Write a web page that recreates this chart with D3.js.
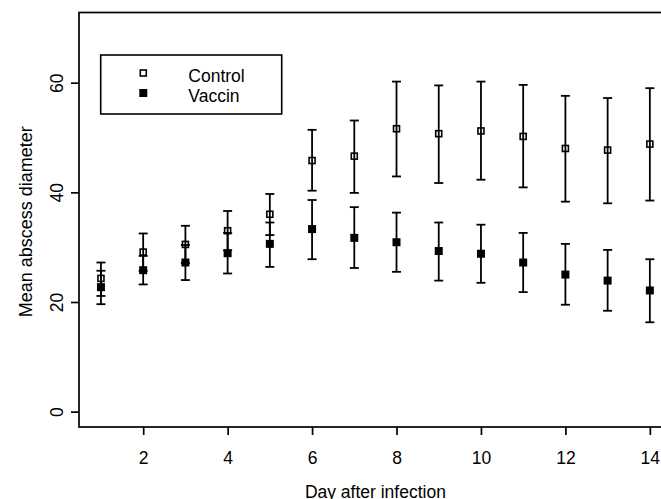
<!DOCTYPE html>
<html>
<head>
<meta charset="utf-8">
<script src="https://cdn.jsdelivr.net/npm/d3@7/dist/d3.min.js"></script>
<style>
  html, body { margin: 0; padding: 0; background: #fff; }
  svg { display: block; font-family: "Liberation Sans", Arial, Helvetica, sans-serif; }
</style>
</head>
<body>
<div id="chart"></div>
<script>
// Mean abscess diameter by day, with error bars
const days = [1, 2, 3, 4, 5, 6, 7, 8, 9, 10, 11, 12, 13, 14];

const controlMean  = [24.3, 29.1, 30.5, 33.0, 36.0, 45.8, 46.6, 51.6, 50.7, 51.2, 50.2, 48.0, 47.7, 48.8];
const controlUpper = [27.2, 32.5, 33.9, 36.6, 39.7, 51.4, 53.1, 60.2, 59.5, 60.2, 59.6, 57.6, 57.2, 59.0];
const controlLower = [21.1, 25.7, 27.1, 29.4, 32.2, 40.3, 39.9, 42.9, 41.7, 42.3, 40.9, 38.3, 38.0, 38.5];

const vaccinMean  = [22.7, 25.8, 27.2, 28.9, 30.6, 33.3, 31.7, 30.9, 29.3, 28.8, 27.2, 25.0, 23.9, 22.1];
const vaccinUpper = [25.7, 28.4, 30.4, 32.6, 34.5, 38.6, 37.3, 36.3, 34.5, 34.1, 32.6, 30.6, 29.5, 27.8];
const vaccinLower = [19.6, 23.2, 24.0, 25.2, 26.4, 27.8, 26.2, 25.5, 23.9, 23.5, 21.8, 19.5, 18.4, 16.3];

const xTicks = [2, 4, 6, 8, 10, 12, 14];
const yTicks = [0, 20, 40, 60];
const legendLabels = ["Control", "Vaccin"];

const width = 661;
const height = 499;
const fontSize = 17.5;

// R-style 4% padding on xlim = range(days), ylim = c(0, 70)
const x = d3.scaleLinear().domain([0.48, 14.52]).range([79, 671.8]);
const y = d3.scaleLinear().domain([-2.8, 72.8]).range([427, 12.5]);

const svg = d3.select("#chart").append("svg")
    .attr("width", width)
    .attr("height", height);

// plot box
svg.append("rect")
    .attr("x", x.range()[0])
    .attr("y", y.range()[1])
    .attr("width", x.range()[1] - x.range()[0])
    .attr("height", y.range()[0] - y.range()[1])
    .attr("fill", "none")
    .attr("stroke", "#000")
    .attr("stroke-width", 1.7);

// x axis
const xAxis = d3.axisBottom(x).tickValues(xTicks).tickSize(8).tickSizeOuter(0);
const gx = svg.append("g")
    .attr("transform", `translate(0,${y.range()[0]})`)
    .call(xAxis);
gx.select(".domain").remove();
gx.selectAll(".tick line").attr("stroke", "#000").attr("stroke-width", 1.7);
gx.selectAll(".tick text")
    .attr("font-size", fontSize)
    .attr("font-family", "Liberation Sans, Arial, sans-serif")
    .attr("fill", "#000")
    .attr("dy", null)
    .attr("y", 463.5 - y.range()[0]);

// y axis
const yAxis = d3.axisLeft(y).tickValues(yTicks).tickSize(8).tickSizeOuter(0);
const gy = svg.append("g")
    .attr("transform", `translate(${x.range()[0]},0)`)
    .call(yAxis);
gy.select(".domain").remove();
gy.selectAll(".tick line").attr("stroke", "#000").attr("stroke-width", 1.7);
gy.selectAll(".tick text")
    .attr("font-size", fontSize)
    .attr("font-family", "Liberation Sans, Arial, sans-serif")
    .attr("fill", "#000")
    .attr("x", null)
    .attr("dy", null)
    .attr("text-anchor", "middle")
    .attr("transform", `translate(${62.5 - x.range()[0]},0) rotate(-90)`);

// axis titles
svg.append("text")
    .attr("x", (x.range()[0] + x.range()[1]) / 2)
    .attr("y", 497.5)
    .attr("text-anchor", "middle")
    .attr("font-size", fontSize)
    .text("Day after infection");

svg.append("text")
    .attr("transform", `translate(31.5,${(y.range()[0] + y.range()[1]) / 2 + 2}) rotate(-90)`)
    .attr("text-anchor", "middle")
    .attr("font-size", 18)
    .text("Mean abscess diameter");

// error bars + points for one group
function drawGroup(mean, lower, upper, filled) {
  const g = svg.append("g");
  const rows = days.map((d, i) => ({day: d, m: mean[i], lo: lower[i], hi: upper[i]}));

  const bars = g.selectAll("g.bar").data(rows).join("g").attr("class", "bar")
      .attr("stroke", "#000").attr("stroke-width", 1.8);
  bars.append("line")
      .attr("x1", d => x(d.day)).attr("x2", d => x(d.day))
      .attr("y1", d => y(d.lo)).attr("y2", d => y(d.hi));
  bars.append("line")
      .attr("x1", d => x(d.day) - 4.5).attr("x2", d => x(d.day) + 4.5)
      .attr("y1", d => y(d.hi)).attr("y2", d => y(d.hi));
  bars.append("line")
      .attr("x1", d => x(d.day) - 4.5).attr("x2", d => x(d.day) + 4.5)
      .attr("y1", d => y(d.lo)).attr("y2", d => y(d.lo));

  if (filled) {
    g.selectAll("rect.pt").data(rows).join("rect").attr("class", "pt")
        .attr("x", d => x(d.day) - 4).attr("y", d => y(d.m) - 4)
        .attr("width", 8).attr("height", 8)
        .attr("fill", "#000");
  } else {
    g.selectAll("rect.pt").data(rows).join("rect").attr("class", "pt")
        .attr("x", d => x(d.day) - 3).attr("y", d => y(d.m) - 3)
        .attr("width", 6).attr("height", 6)
        .attr("fill", "none").attr("stroke", "#000").attr("stroke-width", 1.6);
  }
}

drawGroup(controlMean, controlLower, controlUpper, false);
drawGroup(vaccinMean, vaccinLower, vaccinUpper, true);

// legend
const legend = svg.append("g");
legend.append("rect")
    .attr("x", 100.7).attr("y", 55)
    .attr("width", 181).attr("height", 59)
    .attr("fill", "#fff").attr("stroke", "#000").attr("stroke-width", 1.6);

legendLabels.forEach((label, i) => {
  const cy = 73 + i * 20;
  if (i === 0) {
    legend.append("rect")
        .attr("x", 143.3 - 3).attr("y", cy - 3)
        .attr("width", 6).attr("height", 6)
        .attr("fill", "none").attr("stroke", "#000").attr("stroke-width", 1.6);
  } else {
    legend.append("rect")
        .attr("x", 143.3 - 4).attr("y", cy - 4)
        .attr("width", 8).attr("height", 8)
        .attr("fill", "#000");
  }
  legend.append("text")
      .attr("x", 188.3)
      .attr("y", cy + 9)
      .attr("font-size", fontSize)
      .text(label);
});
</script>
</body>
</html>
